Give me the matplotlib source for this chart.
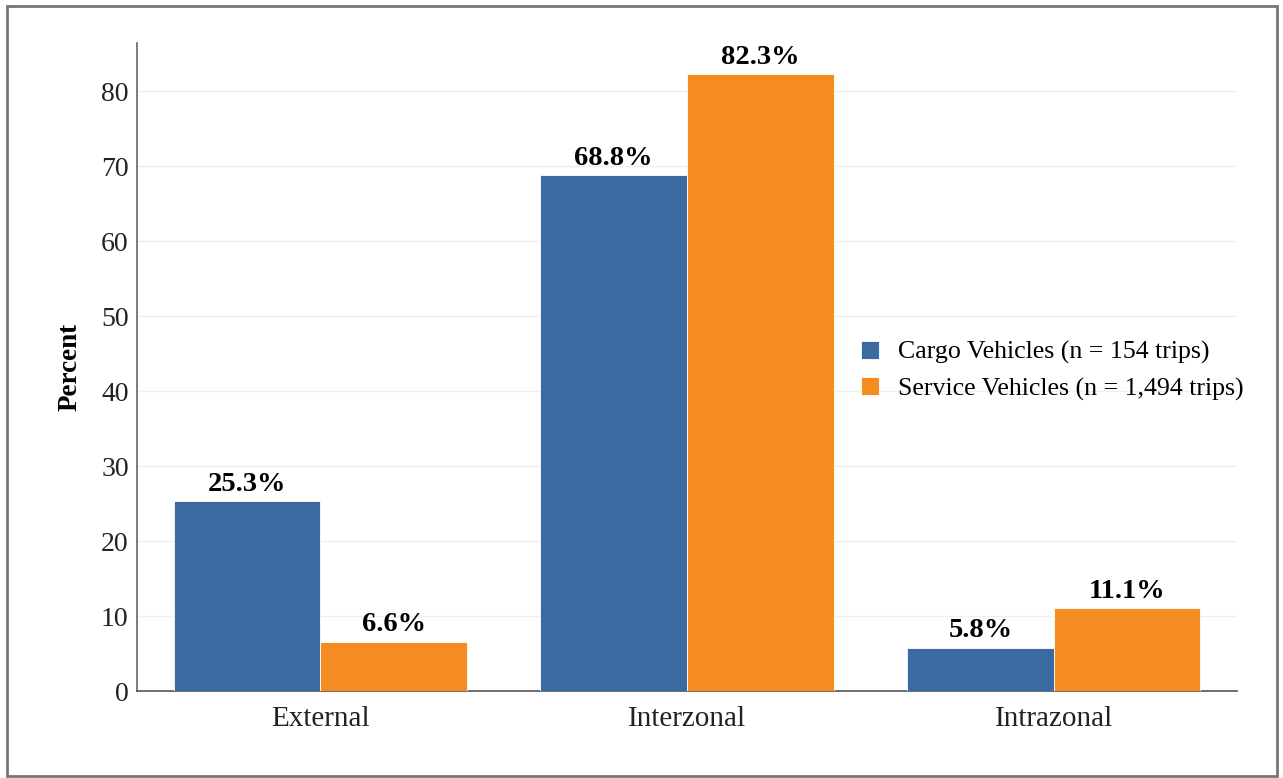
import matplotlib
matplotlib.use("Agg")
import matplotlib.pyplot as plt
import numpy as np
from matplotlib.patches import Rectangle

# ---------- data ----------
categories = ["External", "Interzonal", "Intrazonal"]
cargo      = [25.3, 68.8, 5.8]
service    = [6.6, 82.3, 11.1]
series_names = ["Cargo Vehicles (n = 154 trips)",
                "Service Vehicles (n = 1,494 trips)"]
yticks     = [0, 10, 20, 30, 40, 50, 60, 70, 80]

BLUE   = "#3a6aa0"
ORANGE = "#f48c22"

plt.rcParams["font.family"] = ["Liberation Serif", "DejaVu Serif"]

fig = plt.figure(figsize=(12.83, 7.78), dpi=100)
ax = fig.add_axes([0.1068, 0.1118, 0.8574, 0.8329])

# outer frame
fig.patches.append(Rectangle((0.0055, 0.002), 0.99, 0.99, transform=fig.transFigure,
                             fill=False, edgecolor="#7a7476", linewidth=2))

x = np.arange(len(categories))
w = 0.4
b1 = ax.bar(x - w / 2, cargo, w, color=BLUE, edgecolor="white", linewidth=0.6,
            label=series_names[0], zorder=3)
b2 = ax.bar(x + w / 2, service, w, color=ORANGE, edgecolor="white", linewidth=0.6,
            label=series_names[1], zorder=3)

for bars, vals in ((b1, cargo), (b2, service)):
    for rect, v in zip(bars, vals):
        ax.annotate(f"{v:.1f}%", (rect.get_x() + rect.get_width() / 2, v),
                    xytext=(0, 3), textcoords="offset points",
                    ha="center", va="bottom", fontsize=20.5, fontweight="bold")

ax.set_xlim(-0.5, 2.5)
ax.set_ylim(0, 86.4)
ax.set_yticks(yticks)
ax.set_xticks(x)
ax.set_xticklabels(categories, fontsize=21)
ax.tick_params(axis="both", length=0, colors="#222222")
ax.tick_params(axis="y", labelsize=20, pad=6)
ax.tick_params(axis="x", pad=11)
ax.grid(axis="y", color="#efefef", linewidth=1, zorder=0)

for s in ("top", "right"):
    ax.spines[s].set_visible(False)
ax.spines["left"].set_color("#666666")
ax.spines["bottom"].set_color("#555555")
ax.spines["left"].set_linewidth(1.2)
ax.spines["bottom"].set_linewidth(1.2)

ax.set_ylabel("Percent", fontsize=19.5, fontweight="bold", labelpad=13)

ax.legend(loc="center left", bbox_to_anchor=(0.637, 0.494), frameon=False,
          fontsize=18.6, handlelength=0.7, handleheight=0.7, handletextpad=0.73,
          labelspacing=0.5)

fig.savefig("out.png", dpi=100)
